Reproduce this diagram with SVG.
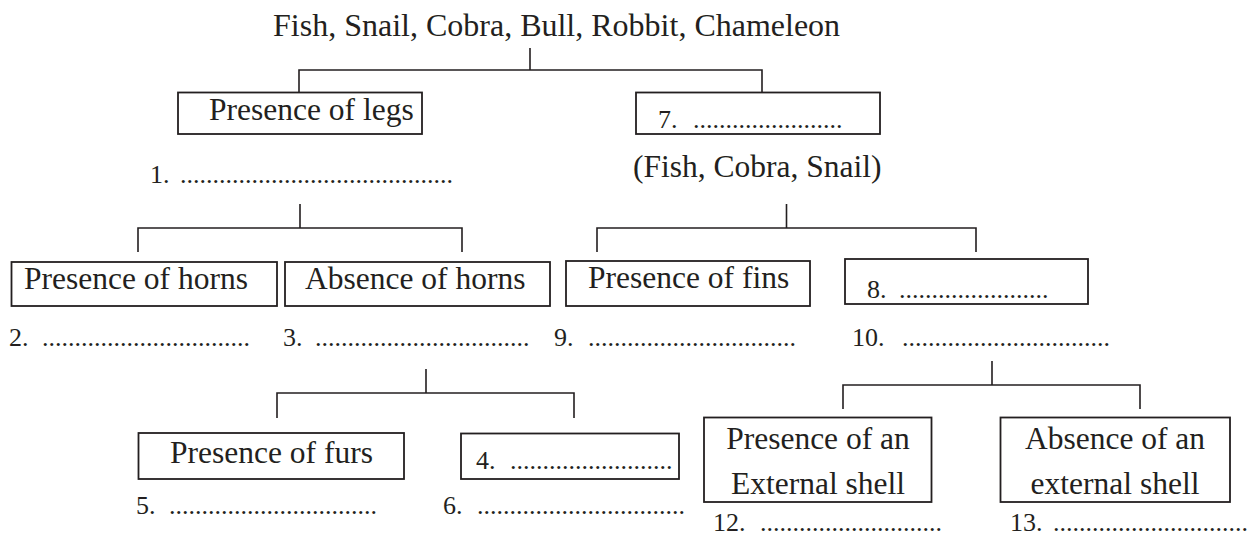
<svg xmlns="http://www.w3.org/2000/svg" width="1253" height="538" viewBox="0 0 1253 538">
  <style>
    .bg { fill: #ffffff; }
    .box { fill: #ffffff; stroke: #231f20; stroke-width: 1.8; }
    .wire { fill: none; stroke: #231f20; stroke-width: 1.6; }
    .t { font-family: "Liberation Serif", "Times New Roman", serif; font-size: 31.5px; fill: #231f20; }
    .title { font-size: 32px; }
    .mid { text-anchor: middle; }
    .lbl { font-family: "Liberation Serif", "Times New Roman", serif; font-size: 26px; fill: #231f20; }
  </style>
  <rect class="bg" x="0" y="0" width="1253" height="538"/>

  <!-- tree connectors -->
  <g id="connectors">
    <path class="wire" d="M530,48 V70 M299,92 V70 H762 V92"/>
    <path class="wire" d="M300,204 V228 M138,252 V228 H462 V252"/>
    <path class="wire" d="M786.5,204 V228 M597,252 V228 H976 V252"/>
    <path class="wire" d="M426,369 V393 M277,418 V393 H574 V418"/>
    <path class="wire" d="M992,361 V385 M843,409 V385 H1140 V409"/>
  </g>

  <g id="root">
    <text class="t title" x="273" y="36">Fish, Snail, Cobra, Bull, Robbit, Chameleon</text>
  </g>

  <g id="legs">
    <rect class="box" x="178" y="92.5" width="244" height="41.5"/>
    <text class="t" x="209" y="120">Presence of legs</text>
  </g>
  <g id="ans1">
    <text class="lbl" x="150" y="183">1.<tspan x="180">..........................................</tspan></text>
  </g>

  <g id="q7">
    <rect class="box" x="636" y="92.5" width="244" height="41.5"/>
    <text class="lbl" x="658" y="128">7.<tspan x="693">.......................</tspan></text>
  </g>
  <g id="group7">
    <text class="t" x="633" y="177">(Fish, Cobra, Snail)</text>
  </g>

  <g id="horns-yes">
    <rect class="box" x="11.5" y="262" width="265.5" height="44"/>
    <text class="t" x="24" y="289">Presence of horns</text>
  </g>
  <g id="horns-no">
    <rect class="box" x="285" y="262" width="265" height="44"/>
    <text class="t" x="305" y="289">Absence of horns</text>
  </g>
  <g id="fins-yes">
    <rect class="box" x="566" y="261" width="244" height="45"/>
    <text class="t" x="588" y="288">Presence of fins</text>
  </g>
  <g id="q8">
    <rect class="box" x="845" y="259" width="243" height="45"/>
    <text class="lbl" x="867" y="298">8.<tspan x="899">.......................</tspan></text>
  </g>

  <g id="ans2"><text class="lbl" x="9" y="346">2.<tspan x="42">................................</tspan></text></g>
  <g id="ans3"><text class="lbl" x="283" y="346">3.<tspan x="315">.................................</tspan></text></g>
  <g id="ans9"><text class="lbl" x="554" y="346">9.<tspan x="588">................................</tspan></text></g>
  <g id="ans10"><text class="lbl" x="852" y="346">10.<tspan x="902">................................</tspan></text></g>

  <g id="furs-yes">
    <rect class="box" x="138.5" y="433" width="265.5" height="46"/>
    <text class="t" x="170" y="463">Presence of furs</text>
  </g>
  <g id="q4">
    <rect class="box" x="461" y="433.5" width="218" height="45.5"/>
    <text class="lbl" x="476" y="469">4.<tspan x="510">.........................</tspan></text>
  </g>
  <g id="ans5"><text class="lbl" x="136" y="514">5.<tspan x="169">................................</tspan></text></g>
  <g id="ans6"><text class="lbl" x="443" y="514">6.<tspan x="477">................................</tspan></text></g>

  <g id="shell-yes">
    <rect class="box" x="704" y="417.5" width="227.5" height="84.5"/>
    <text class="t mid" x="818" y="448.5">Presence of an</text>
    <text class="t mid" x="818" y="493.5">External shell</text>
  </g>
  <g id="shell-no">
    <rect class="box" x="1000.5" y="417.5" width="229.5" height="84.5"/>
    <text class="t mid" x="1115" y="448.5">Absence of an</text>
    <text class="t mid" x="1115" y="493.5">external shell</text>
  </g>
  <g id="ans12"><text class="lbl" x="713" y="531">12.<tspan x="760">............................</tspan></text></g>
  <g id="ans13"><text class="lbl" x="1010" y="531">13.<tspan x="1053">..............................</tspan></text></g>
</svg>
